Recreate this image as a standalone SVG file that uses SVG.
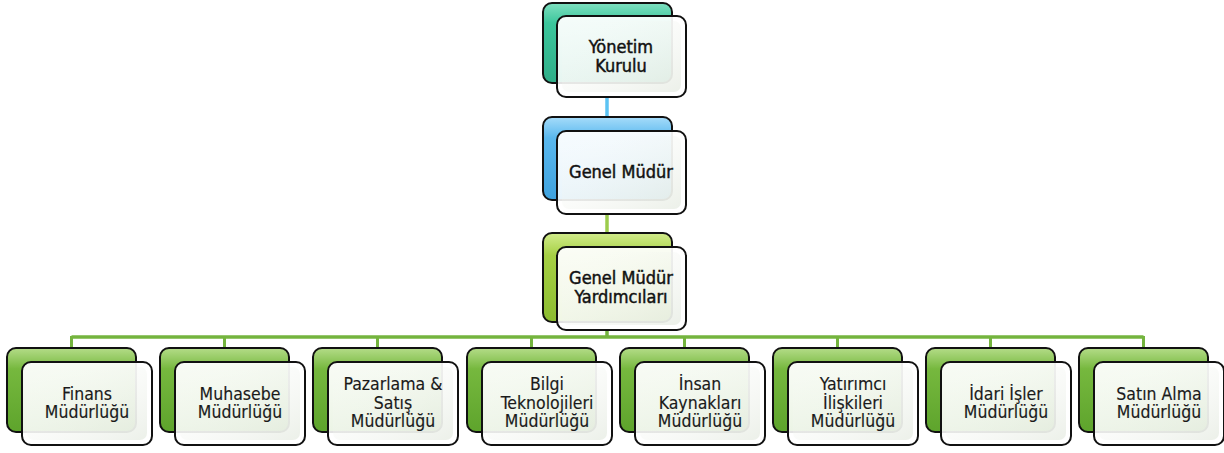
<svg xmlns="http://www.w3.org/2000/svg" width="1224" height="453" viewBox="0 0 1224 453">
<defs>
<linearGradient id="gTeal" x1="0" y1="0" x2="0" y2="1">
<stop offset="0" stop-color="#7fe0c0"/><stop offset="0.25" stop-color="#3cc69c"/><stop offset="1" stop-color="#2fae88"/>
</linearGradient>
<linearGradient id="gBlue" x1="0" y1="0" x2="0" y2="1">
<stop offset="0" stop-color="#a6dcfa"/><stop offset="0.25" stop-color="#5ab8ee"/><stop offset="1" stop-color="#3fa2de"/>
</linearGradient>
<linearGradient id="gLime" x1="0" y1="0" x2="0" y2="1">
<stop offset="0" stop-color="#d2ec8c"/><stop offset="0.25" stop-color="#a6d044"/><stop offset="1" stop-color="#8cbc30"/>
</linearGradient>
<linearGradient id="gGreen" x1="0" y1="0" x2="0" y2="1">
<stop offset="0" stop-color="#b4dc88"/><stop offset="0.25" stop-color="#76b83e"/><stop offset="1" stop-color="#5ea42c"/>
</linearGradient>
<linearGradient id="gFront" x1="0" y1="0" x2="0.3" y2="1">
<stop offset="0" stop-color="#ffffff" stop-opacity="0.95"/><stop offset="1" stop-color="#ffffff" stop-opacity="0.86"/>
</linearGradient>
<linearGradient id="gHi" x1="0" y1="0" x2="1" y2="1">
<stop offset="0" stop-color="#ffffff" stop-opacity="0"/><stop offset="1" stop-color="#dfe6da" stop-opacity="0.6"/>
</linearGradient>
</defs>
<style>
.back{stroke:#111;stroke-width:2}
.front{fill:url(#gFront);stroke:#111;stroke-width:2}
.hi{fill:url(#gHi);stroke:none}
.lbl{font-family:"DejaVu Sans Condensed","DejaVu Sans",sans-serif;font-stretch:condensed;font-size:17.5px;fill:#1a1a1a;text-anchor:middle;stroke:#1a1a1a;stroke-width:0.15}
.top{font-size:18px;fill:#111;stroke:#111;stroke-width:0.45}
.cn{fill:none;stroke-width:3.5}
</style>
<rect width="1224" height="453" fill="#ffffff"/>
<g id="connectors">
<line class="cn" x1="607" y1="96" x2="607" y2="119" stroke="#5cc3f3"/>
<line class="cn" x1="607" y1="213" x2="607" y2="235" stroke="#9ccc4c"/>
<line class="cn" x1="607" y1="329" x2="607" y2="338" stroke="#74b43e"/>
<line class="cn" x1="71.5" y1="337" x2="1143.5" y2="337" stroke="#74b43e"/>
<g stroke="#74b43e" stroke-width="3">
<line x1="71.5" y1="336" x2="71.5" y2="349"/>
<line x1="224.5" y1="336" x2="224.5" y2="349"/>
<line x1="377.5" y1="336" x2="377.5" y2="349"/>
<line x1="531.5" y1="336" x2="531.5" y2="349"/>
<line x1="684.5" y1="336" x2="684.5" y2="349"/>
<line x1="837.5" y1="336" x2="837.5" y2="349"/>
<line x1="990.5" y1="336" x2="990.5" y2="349"/>
<line x1="1143.5" y1="336" x2="1143.5" y2="349"/>
</g>
</g>
<g id="n-yonetim">
<rect class="back" x="543" y="3" width="129" height="80" rx="9" fill="url(#gTeal)"/>
<rect class="front" x="557" y="16" width="129" height="81" rx="9"/>
<rect class="hi" x="562" y="21" width="119" height="71" rx="7"/>
<text class="lbl top" x="621" y="53">Yönetim</text>
<text class="lbl top" x="621" y="72">Kurulu</text>
</g>
<g id="n-genel">
<rect class="back" x="543" y="117" width="129" height="83" rx="9" fill="url(#gBlue)"/>
<rect class="front" x="557" y="131" width="129" height="83" rx="9"/>
<rect class="hi" x="562" y="136" width="119" height="73" rx="7"/>
<text class="lbl top" x="621" y="178">Genel Müdür</text>
</g>
<g id="n-gmy">
<rect class="back" x="543" y="233" width="129" height="89" rx="9" fill="url(#gLime)"/>
<rect class="front" x="557" y="247" width="129" height="83" rx="9"/>
<rect class="hi" x="562" y="252" width="119" height="73" rx="7"/>
<text class="lbl top" x="621" y="284">Genel Müdür</text>
<text class="lbl top" x="621" y="303">Yardımcıları</text>
</g>
<g id="n-finans">
<rect class="back" x="7" y="348" width="129" height="84" rx="9" fill="url(#gGreen)"/>
<rect class="front" x="22" y="362" width="130" height="83" rx="9"/>
<rect class="hi" x="27" y="367" width="120" height="73" rx="7"/>
<text class="lbl" x="87" y="400">Finans</text>
<text class="lbl" x="87" y="418">Müdürlüğü</text>
</g>
<g id="n-muhasebe">
<rect class="back" x="160" y="348" width="129" height="84" rx="9" fill="url(#gGreen)"/>
<rect class="front" x="175" y="362" width="130" height="83" rx="9"/>
<rect class="hi" x="180" y="367" width="120" height="73" rx="7"/>
<text class="lbl" x="240" y="400">Muhasebe</text>
<text class="lbl" x="240" y="418">Müdürlüğü</text>
</g>
<g id="n-pazarlama">
<rect class="back" x="313" y="348" width="129" height="84" rx="9" fill="url(#gGreen)"/>
<rect class="front" x="328" y="362" width="130" height="83" rx="9"/>
<rect class="hi" x="333" y="367" width="120" height="73" rx="7"/>
<text class="lbl" x="393" y="390">Pazarlama &amp;</text>
<text class="lbl" x="393" y="408.5">Satış</text>
<text class="lbl" x="393" y="427">Müdürlüğü</text>
</g>
<g id="n-bilgi">
<rect class="back" x="467" y="348" width="129" height="84" rx="9" fill="url(#gGreen)"/>
<rect class="front" x="482" y="362" width="130" height="83" rx="9"/>
<rect class="hi" x="487" y="367" width="120" height="73" rx="7"/>
<text class="lbl" x="547" y="390">Bilgi</text>
<text class="lbl" x="547" y="408.5">Teknolojileri</text>
<text class="lbl" x="547" y="427">Müdürlüğü</text>
</g>
<g id="n-insan">
<rect class="back" x="620" y="348" width="129" height="84" rx="9" fill="url(#gGreen)"/>
<rect class="front" x="635" y="362" width="130" height="83" rx="9"/>
<rect class="hi" x="640" y="367" width="120" height="73" rx="7"/>
<text class="lbl" x="700" y="390">İnsan</text>
<text class="lbl" x="700" y="408.5">Kaynakları</text>
<text class="lbl" x="700" y="427">Müdürlüğü</text>
</g>
<g id="n-yatirimci">
<rect class="back" x="773" y="348" width="129" height="84" rx="9" fill="url(#gGreen)"/>
<rect class="front" x="788" y="362" width="130" height="83" rx="9"/>
<rect class="hi" x="793" y="367" width="120" height="73" rx="7"/>
<text class="lbl" x="853" y="390">Yatırımcı</text>
<text class="lbl" x="853" y="408.5">İlişkileri</text>
<text class="lbl" x="853" y="427">Müdürlüğü</text>
</g>
<g id="n-idari">
<rect class="back" x="926" y="348" width="129" height="84" rx="9" fill="url(#gGreen)"/>
<rect class="front" x="941" y="362" width="130" height="83" rx="9"/>
<rect class="hi" x="946" y="367" width="120" height="73" rx="7"/>
<text class="lbl" x="1006" y="400">İdari İşler</text>
<text class="lbl" x="1006" y="418">Müdürlüğü</text>
</g>
<g id="n-satin">
<rect class="back" x="1079" y="348" width="129" height="84" rx="9" fill="url(#gGreen)"/>
<rect class="front" x="1094" y="362" width="130" height="83" rx="9"/>
<rect class="hi" x="1099" y="367" width="120" height="73" rx="7"/>
<text class="lbl" x="1159" y="400">Satın Alma</text>
<text class="lbl" x="1159" y="418">Müdürlüğü</text>
</g>
</svg>
